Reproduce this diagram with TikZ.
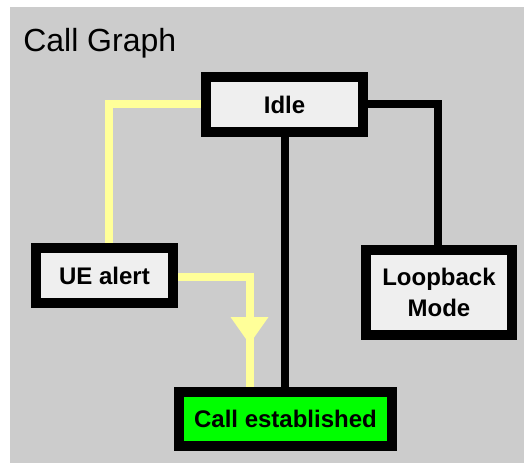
\documentclass[tikz,border=0pt]{standalone}
\usepackage{fontspec}
\setmainfont{Liberation Sans}
\usetikzlibrary{decorations.markings}
\definecolor{bggray}{HTML}{CCCCCC}
\definecolor{boxfill}{HTML}{EFEFEF}
\definecolor{paleyellow}{HTML}{FFFF99}
\definecolor{brightgreen}{HTML}{00FF00}
\pgfdeclarelayer{bg}
\pgfdeclarelayer{wires}
\pgfsetlayers{bg,wires,main}
\tikzset{
  statebox/.style={draw=black, line width=7.5pt, fill=boxfill, inner sep=0pt,
    font=\fontsize{18}{23.25}\selectfont\bfseries, align=center},
  blackwire/.style={draw=black, line width=6pt},
  yellowwire/.style={draw=paleyellow, line width=6pt},
  midarrow/.style={postaction={decorate}, decoration={markings,
    mark=at position #1 with {\fill[paleyellow] (0pt,0pt) -- (-20.25pt,14.25pt) -- (-20.25pt,-14.25pt) -- cycle;}}}
}
\begin{document}
\begin{tikzpicture}[x=0.75pt, y=-0.75pt]
\useasboundingbox (0,0) rectangle (524,463);
\begin{pgfonlayer}{bg}
\fill[white] (0,0) rectangle (524,463);
\fill[bggray] (10,7) rectangle (524,463);
\end{pgfonlayer}

\node[anchor=base west, font=\fontsize{24}{28}\selectfont, inner sep=0pt] (title) at (23,52) {Call Graph};

\node[statebox, minimum width=117.75pt, minimum height=41.25pt] (idle) at (284.5,104.5) {Idle};
\node[statebox, minimum width=102.75pt, minimum height=41.25pt] (ue) at (104.5,275.5) {UE alert};
\node[statebox, minimum width=109.5pt, minimum height=63.75pt] (loop) at (439,292.5) {Loopback\\Mode};
\node[statebox, fill=brightgreen, minimum width=159.75pt, minimum height=40.5pt] (call) at (285.5,419) {Call established};

\begin{pgfonlayer}{wires}
\draw[yellowwire] (idle.west) -| ([xshift=3.375pt]ue.north);
\draw[yellowwire, midarrow=103.9pt] ([yshift=-1.1pt]ue.east) -| ([xshift=-27pt]call.north);
\draw[blackwire] (idle.south) -- (idle.south |- call.north);
\draw[blackwire] (idle.east) -| ([xshift=-0.75pt]loop.north);
\end{pgfonlayer}
\end{tikzpicture}
\end{document}
